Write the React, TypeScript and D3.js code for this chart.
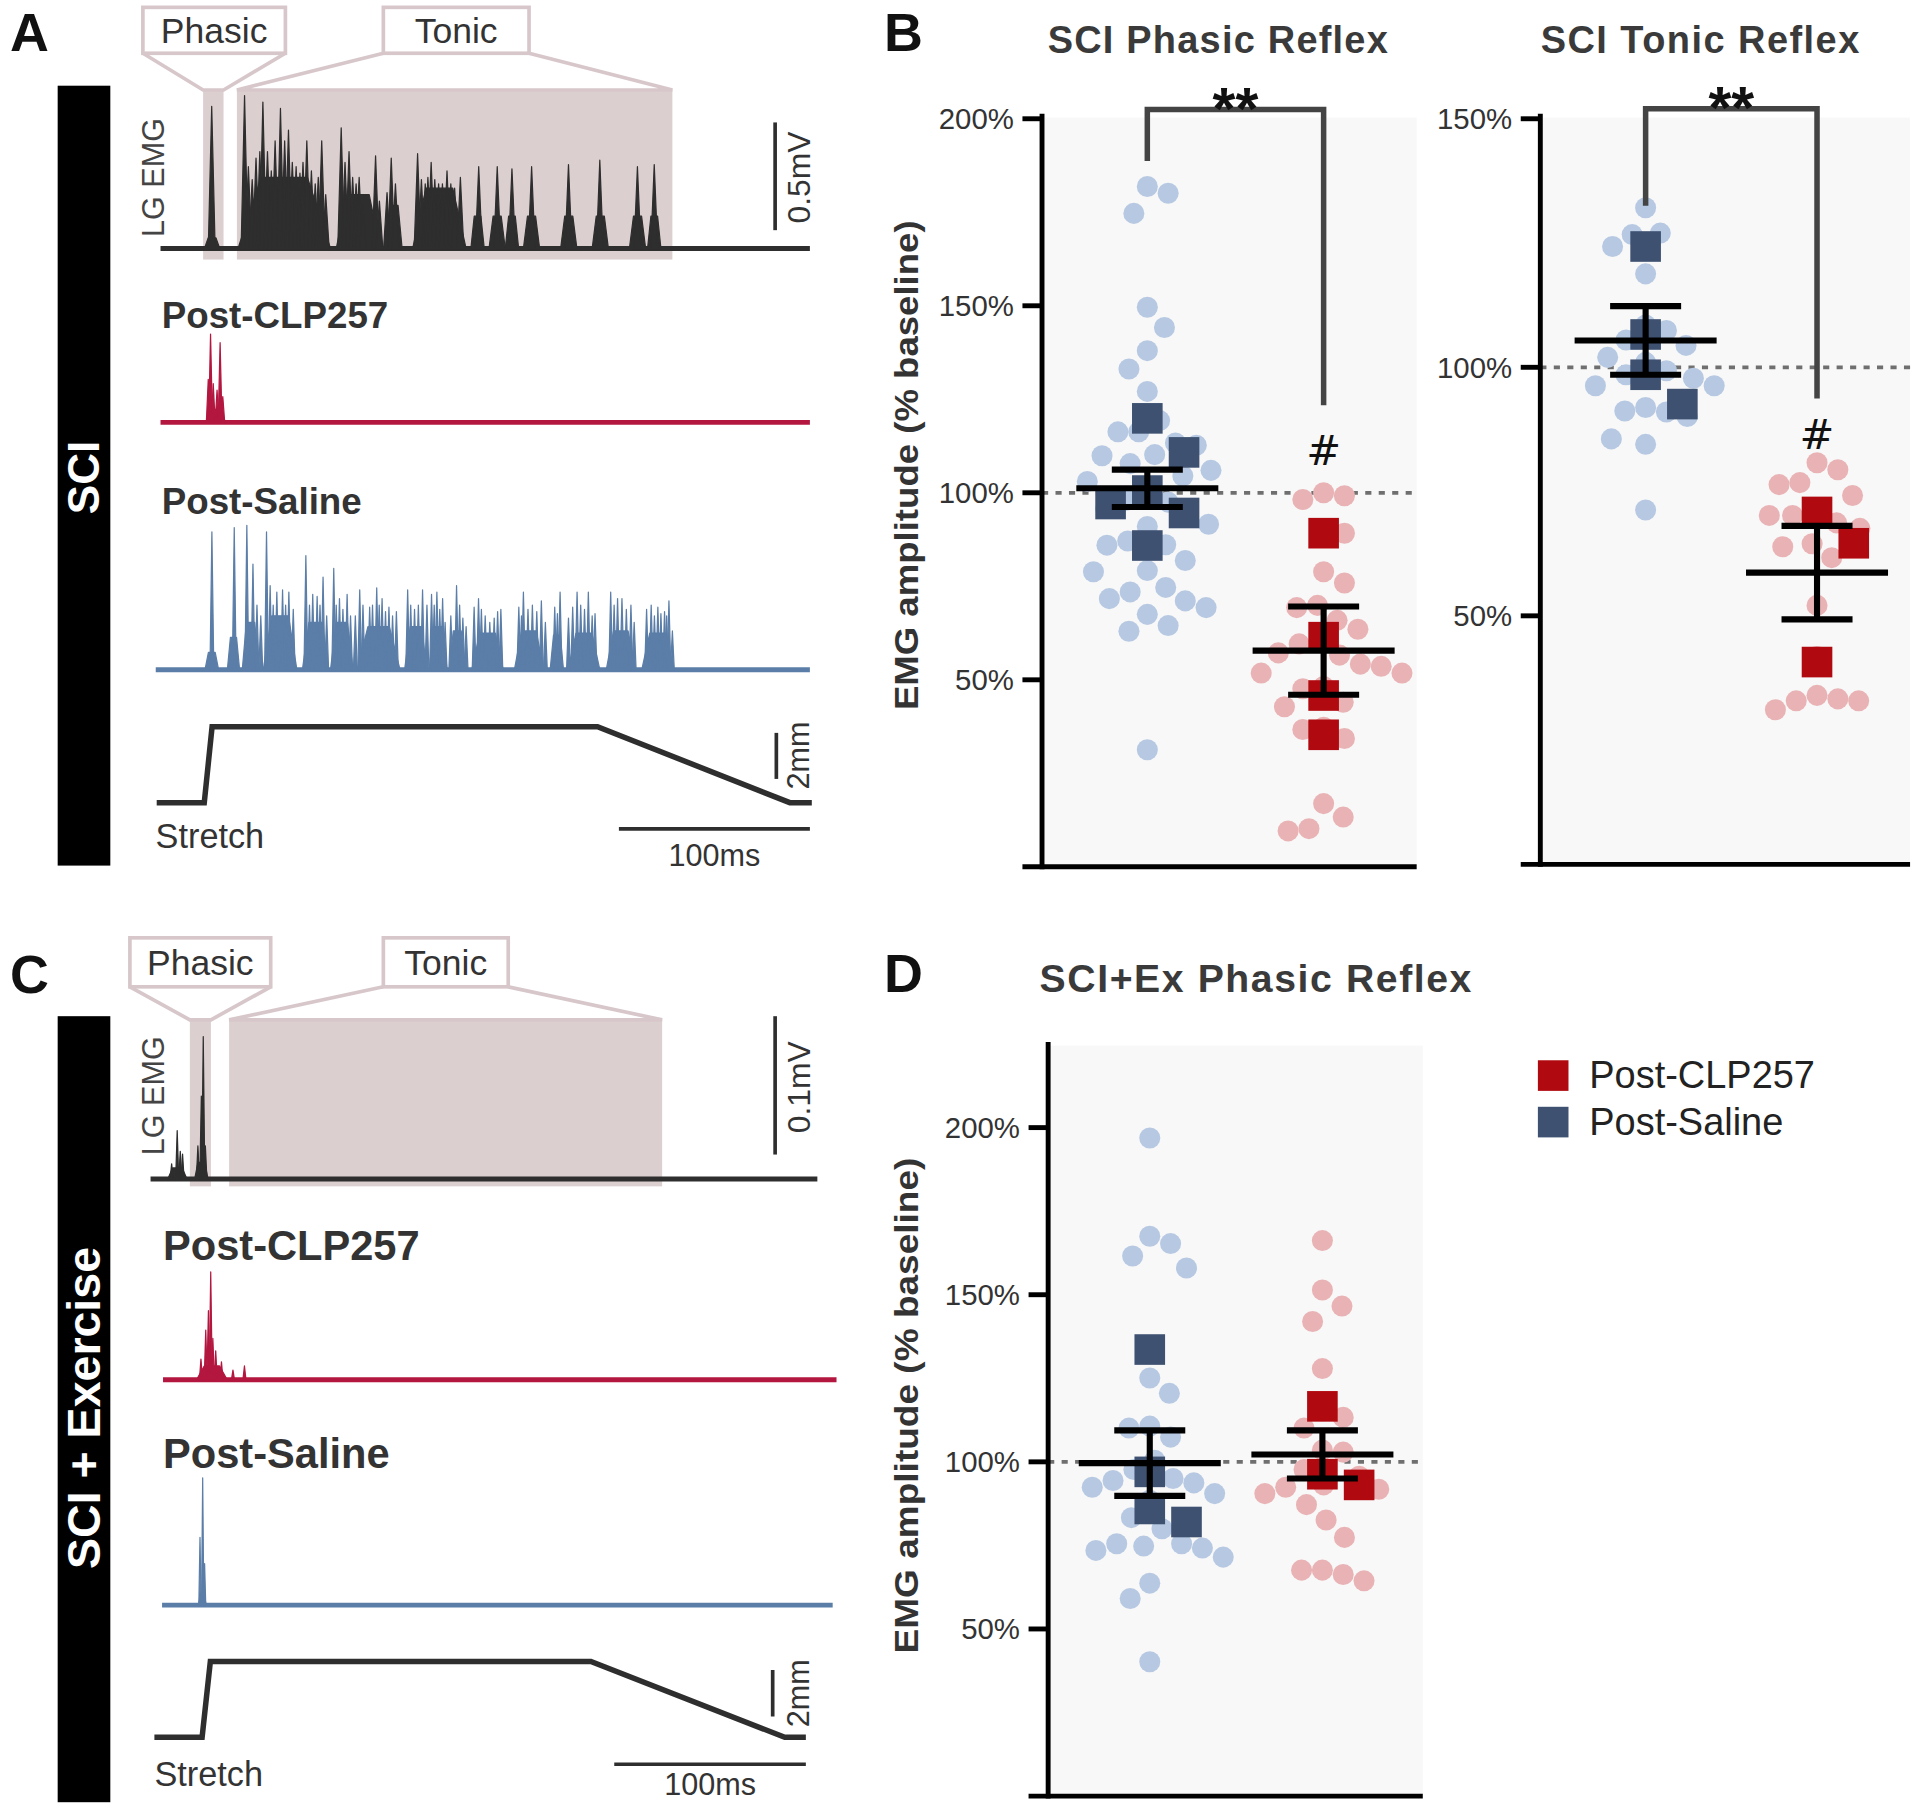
import React from "react";
import * as d3 from "d3";

// ---------- summary data, % of baseline ----------
const groups = ["Post-Saline", "Post-CLP257"];

const phasicTicks = [50, 100, 150, 200];
const tonicTicks = [50, 100, 150];

// B - SCI phasic reflex
const sciPhasicSaline = [181.9, 180.1, 174.7, 149.6, 144.2, 138.0, 133.1, 127.1, 119.3, 116.3, 116.3, 113.3, 112.7, 109.9, 110.2, 107.8, 106.0, 104.5, 103.0, 100.6, 98.0, 97.5, 95.8, 93.4, 91.6, 91.0, 87.1, 86.1, 86.0, 81.9, 78.9, 79.2, 74.7, 73.5, 71.7, 71.1, 69.3, 67.5, 64.5, 63.0, 31.3];
const sciPhasicSalineAnimals = [119.9, 110.8, 100.6, 97.0, 94.6, 85.9];
const sciPhasicClp = [99.2, 98.2, 100.0, 89.2, 89.5, 78.9, 75.9, 69.3, 69.9, 63.5, 65.9, 60.2, 57.2, 59.6, 56.6, 51.8, 54.2, 53.6, 51.8, 47.6, 48.2, 44.0, 42.8, 37.3, 34.3, 36.7, 16.9, 13.3, 10.2, 9.6];
const sciPhasicClpAnimals = [89.2, 61.4, 45.8, 35.3];
const sciPhasicMean = [101.2, 57.8];
const sciPhasicSem = [5.0, 11.8];

// B - SCI tonic reflex
const sciTonicSaline = [132.1, 127.0, 126.7, 124.3, 118.8, 108.5, 107.4, 105.5, 104.4, 102.0, 101.0, 99.3, 98.5, 97.8, 96.3, 96.3, 91.9, 91.2, 91.0, 90.1, 85.6, 84.5, 71.3];
const sciTonicSalineAnimals = [124.3, 106.6, 98.5, 92.6];
const sciTonicClp = [80.8, 79.4, 76.8, 76.4, 74.2, 71.3, 70.2, 70.2, 68.7, 67.6, 64.5, 63.9, 61.7, 52.1, 41.8, 34.0, 33.3, 32.9, 32.9, 31.1];
const sciTonicClpAnimals = [70.9, 64.6, 40.7];
const sciTonicMean = [105.4, 58.7];
const sciTonicSem = [6.9, 9.4];

// D - SCI+Ex phasic reflex
const exPhasicSaline = [196.9, 167.5, 165.3, 161.6, 158.0, 125.1, 120.5, 110.7, 110.1, 107.4, 100.5, 97.7, 95.0, 94.4, 93.7, 92.4, 90.5, 88.5, 83.3, 80.0, 75.5, 75.5, 74.8, 74.2, 73.5, 71.5, 63.7, 59.1, 40.2];
const exPhasicSalineAnimals = [133.6, 97.0, 85.9, 82.0];
const exPhasicClp = [166.2, 151.4, 146.6, 142.0, 127.9, 115.3, 113.3, 110.1, 103.5, 102.9, 97.7, 95.7, 93.1, 92.4, 91.8, 90.5, 87.2, 82.6, 77.4, 67.6, 67.6, 66.3, 64.4];
const exPhasicClpAnimals = [116.6, 96.3, 93.1];
const exPhasicMean = [99.6, 102.2];
const exPhasicSem = [9.8, 7.2];

// ---------- example traces: spikes [ms, mV], bursts [startMs, endMs, mV] ----------
const sciEmgSpikes = [[26.8, 0.66], [44, 0.71], [46, 0.38], [48, 0.32], [50, 0.42], [52, 0.45], [53.6, 0.68], [56, 0.45], [58, 0.36], [60, 0.5], [62.8, 0.65], [65, 0.5], [67, 0.55], [69, 0.4], [71, 0.38], [73, 0.35], [74.6, 0.4], [76.6, 0.5], [79, 0.36], [81, 0.3], [82.6, 0.33], [84.4, 0.5], [86.5, 0.25], [94.6, 0.56], [96.6, 0.4], [98.7, 0.45], [100.6, 0.33], [102.4, 0.3], [104, 0.33], [106, 0.2], [112.6, 0.43], [114.6, 0.22], [118.6, 0.26], [120.8, 0.42], [123, 0.3], [134.6, 0.44], [136.6, 0.32], [138.6, 0.3], [140, 0.33], [141.7, 0.4], [143.6, 0.32], [145.6, 0.3], [147.6, 0.3], [150, 0.36], [152, 0.3], [154, 0.28], [157, 0.33], [166.6, 0.38], [176.3, 0.38], [184, 0.37], [194.3, 0.38], [213.6, 0.39], [230, 0.41], [249.7, 0.38], [258.5, 0.39]];
const sciEmgBursts = [[23, 31, 0.05], [40.6, 89, 0.33], [92, 115, 0.25], [118, 126.5, 0.2], [132, 160, 0.28], [162.5, 169.5, 0.15], [172, 180.5, 0.15], [180.5, 187.5, 0.15], [190, 198.5, 0.15], [209.5, 218, 0.15], [226, 234.5, 0.15], [245.5, 254, 0.15], [255, 262, 0.15]];

const sciClpSpikes = [[25, 0.2], [26.2, 0.41], [27.6, 0.18], [29.6, 0.15], [31.2, 0.37], [32.6, 0.12]];
const sciClpBursts = [[24, 34, 0.06]];

const sciSalineSpikes = [[26.9, 0.64], [38.6, 0.66], [45.2, 0.67], [48.4, 0.49], [50.5, 0.3], [52.5, 0.25], [55.5, 0.64], [57.4, 0.39], [59, 0.3], [60.9, 0.36], [63.9, 0.37], [65.5, 0.3], [67.2, 0.36], [69.5, 0.28], [76.1, 0.53], [78, 0.3], [79.7, 0.35], [82, 0.34], [83.5, 0.3], [85.1, 0.43], [87, 0.25], [90.7, 0.47], [92, 0.3], [93.7, 0.33], [95.5, 0.28], [97.7, 0.35], [99.5, 0.25], [102, 0.25], [104.3, 0.37], [106, 0.3], [109.5, 0.29], [111, 0.3], [113.2, 0.38], [114.5, 0.3], [116, 0.33], [117.8, 0.27], [119.6, 0.29], [121.5, 0.25], [123.5, 0.27], [129.4, 0.37], [131, 0.3], [133, 0.28], [135, 0.3], [137.2, 0.37], [139.5, 0.3], [141.9, 0.35], [143.3, 0.3], [144.7, 0.36], [146.2, 0.28], [147.7, 0.33], [149, 0.22], [152, 0.25], [155, 0.39], [156.6, 0.3], [158.3, 0.24], [160, 0.2], [164.2, 0.29], [166.5, 0.33], [168, 0.28], [170, 0.25], [172.4, 0.22], [174.7, 0.24], [176.5, 0.27], [178.2, 0.28], [187.6, 0.29], [189, 0.25], [190, 0.36], [192.4, 0.28], [194.7, 0.3], [197, 0.27], [199.4, 0.32], [201.5, 0.22], [206.4, 0.29], [207.8, 0.26], [209.2, 0.36], [213.6, 0.24], [215.8, 0.29], [218.1, 0.36], [220, 0.3], [222, 0.28], [224, 0.36], [226, 0.25], [227.5, 0.26], [235.7, 0.36], [237.5, 0.3], [239.3, 0.33], [241.6, 0.33], [243.9, 0.28], [246.3, 0.3], [248, 0.22], [254.5, 0.28], [256.9, 0.3], [258.6, 0.25], [260.4, 0.29], [262, 0.26], [263.9, 0.27], [265, 0.25], [266.2, 0.32], [268, 0.18]];
const sciSalineBursts = [[23.3, 30.4, 0.08], [35, 41.4, 0.15], [42.8, 51.5, 0.22], [53.8, 71.4, 0.25], [74.3, 88, 0.22], [89, 100.8, 0.22], [103, 125.4, 0.2], [127.8, 139.5, 0.2], [140.7, 150, 0.2], [151.2, 159.5, 0.18], [163, 179.4, 0.17], [185.3, 200.5, 0.18], [204, 211, 0.16], [213.4, 230, 0.17], [233.4, 248.6, 0.18], [252, 268.6, 0.17]];

const exEmgSpikes = [[9, 0.011], [11.9, 0.035], [13.5, 0.02], [14.7, 0.018], [22.7, 0.024], [24.5, 0.06], [25.5, 0.103], [26.6, 0.024]];
const exEmgBursts = [[7, 17, 0.008], [21, 28, 0.012]];
const exClpSpikes = [[24.3, 0.015], [26.8, 0.036], [28.2, 0.05], [29.4, 0.078], [30.5, 0.03], [32, 0.021], [35, 0.013], [41, 0.007], [47, 0.01]];
const exClpBursts = [[22, 38, 0.01]];
const exSalineSpikes = [[23.8, 0.049], [25.2, 0.092], [26.2, 0.03]];
const exSalineBursts = [[23, 27, 0.008]];

// stretch ramp [ms, mm]
const stretchSci = [[-2, 0], [22.9, 0], [27, 3.3], [228.8, 3.3], [329.5, 0], [341, 0]];
const stretchEx = [[0, 0], [24.9, 0], [29.2, 3.26], [227.8, 3.26], [329, 0], [340, 0]];

// analysis windows [ms]
const sciWindows = { phasic: [22.3, 33], tonic: [40, 268] };
const exWindows = { phasic: [18.5, 29.5], tonic: [39, 265] };

// ---------- styles ----------
const FONT = "'Liberation Sans', Arial, Helvetica, sans-serif";
const TXT = "#333";
const dotColors = ["#b7c9e2", "#e9b3b5"];
const sqColors = ["#3e5171", "#b00a10"];
const shade = "#dccfd0";
const boxStroke = "#d7c7ca";

// column-scatter layout (like Prism): nearest free offset, balanced left/right
function dodge(values, y, minDist, square, squash) {
  const order = values.map((_, i) => i).sort((a, b) => values[b] - values[a]);
  const placed = [];
  const out = new Array(values.length).fill(0);
  const free = (c, py) => placed.every(p => square
    ? Math.max(Math.abs(p.x - c), Math.abs(p.y - py)) >= minDist
    : Math.hypot(p.x - c, (p.y - py) * squash) >= minDist);
  for (const i of order) {
    const py = y(values[i]);
    let best = 0;
    for (let k = 0; k < 200; k++) {
      const okR = free(k, py), okL = free(-k, py);
      if (okR || okL) {
        if (okR && okL && k > 0) {
          // put it on the side with less weight nearby
          const near = placed.filter(p => Math.abs(p.y - py) < minDist * 2);
          const bal = d3.sum(near, p => Math.sign(p.x));
          best = bal > 0 ? -k : k;
        } else best = okR ? k : -k;
        break;
      }
    }
    placed.push({ x: best, y: py });
    out[i] = best;
  }
  return out;
}

const ScatterPanel = ({ y, x, ticks, axisX, axisTop, right, dots, squares, means, sems }) => {
  const y0 = y(0);
  return (
    <g>
      <rect x={axisX + 2} y={axisTop + 3} width={right - axisX - 2} height={y0 - axisTop - 4} fill="#f8f8f8" />
      <line x1={axisX} x2={right} y1={y(100)} y2={y(100)} stroke="#6f6f6f" strokeWidth={3} strokeDasharray="5 6" />
      {groups.map((g, gi) => {
        const cx = x(g);
        const off = dodge(dots[gi], y, 17, false, 0.6);
        return dots[gi].map((v, i) => (
          <circle key={g + i} cx={cx + off[i]} cy={y(v)} r={8.6} fill={dotColors[gi]} />
        ));
      })}
      {groups.map((g, gi) => {
        const cx = x(g);
        const off = dodge(squares[gi], y, 30, true, 1);
        return squares[gi].map((v, i) => (
          <rect key={g + "s" + i} x={cx + off[i] - 12.5} y={y(v) - 12.5} width={25} height={25} fill={sqColors[gi]} />
        ));
      })}
      {groups.map((g, gi) => {
        const cx = x(g);
        const m = means[gi], s = sems[gi];
        return (
          <g key={g + "e"} stroke="#000" strokeWidth={5}>
            <line x1={cx - 58} x2={cx + 58} y1={y(m)} y2={y(m)} />
            <line x1={cx} x2={cx} y1={y(m + s)} y2={y(m - s)} />
            <line x1={cx - 29} x2={cx + 29} y1={y(m + s)} y2={y(m + s)} />
            <line x1={cx - 29} x2={cx + 29} y1={y(m - s)} y2={y(m - s)} />
          </g>
        );
      })}
      <line x1={axisX} x2={axisX} y1={y0 + 2} y2={axisTop} stroke="#000" strokeWidth={4} />
      <line x1={axisX - 16} x2={right} y1={y0} y2={y0} stroke="#000" strokeWidth={4} />
      {ticks.map(t => (
        <g key={t}>
          <line x1={axisX - 16} x2={axisX} y1={y(t)} y2={y(t)} stroke="#000" strokeWidth={4} />
          <text x={axisX - 23} y={y(t)} dy="0.35em" textAnchor="end" fontSize={24} fill={TXT}>{t}%</text>
        </g>
      ))}
    </g>
  );
};

const Bracket = ({ x, y, left, top, rightEnd, hashY }) => {
  const x1 = x(groups[0]), x2 = x(groups[1]);
  return (
    <g>
      <path d={d3.line()([[x1, y(left)], [x1, y(top)], [x2, y(top)], [x2, y(rightEnd)]])} fill="none" stroke="#444" strokeWidth={4.5} />
      <text x={(x1 + x2) / 2} y={y(top) + 16} textAnchor="middle" fontSize={48} fontWeight="bold" fill="#111">**</text>
      <text x={x2} y={hashY} textAnchor="middle" fontSize={34} fill="#111" fontFamily="'DejaVu Sans', sans-serif">#</text>
    </g>
  );
};

const Trace = ({ x, y, from, to, spikes, bursts, hw, color, width }) => {
  const line = d3.line();
  const base = line([[x(from), y(0)], [x(to), y(0)]]);
  return (
    <g fill={color} stroke={color} strokeWidth={1} strokeLinejoin="round">
      <path d={base} fill="none" strokeWidth={width} />
      {bursts.map(([a, b, v], i) => {
        const r = (b - a) * 0.25;
        return <path key={"b" + i} d={line([[x(a), y(0)], [x(a + r), y(v)], [x(b - r), y(v)], [x(b), y(0)]]) + "Z"} />;
      })}
      {spikes.map(([t, v], i) => (
        <path key={"s" + i} d={line([[x(t - hw), y(0)], [x(t), y(v)], [x(t + hw), y(0)]]) + "Z"} />
      ))}
    </g>
  );
};

const Windows = ({ x, win, top, bottom, phasicBox, tonicBox, boxTop, boxBottom }) => {
  const [p0, p1] = win.phasic.map(x);
  const [t0, t1] = win.tonic.map(x);
  return (
    <g>
      <rect x={p0} y={top} width={p1 - p0} height={bottom - top} fill={shade} />
      <rect x={t0} y={top} width={t1 - t0} height={bottom - top} fill={shade} />
      <g fill="none" stroke={boxStroke} strokeWidth={3}>
        <path d={d3.line()([[phasicBox[0], boxBottom], [p0, top], [p1, top], [phasicBox[1], boxBottom]])} />
        <path d={d3.line()([[tonicBox[0], boxBottom], [t0, top], [t1, top], [tonicBox[1], boxBottom]])} />
        <rect x={phasicBox[0]} y={boxTop} width={phasicBox[1] - phasicBox[0]} height={boxBottom - boxTop} fill="#fff" />
        <rect x={tonicBox[0]} y={boxTop} width={tonicBox[1] - tonicBox[0]} height={boxBottom - boxTop} fill="#fff" />
      </g>
      <text x={(phasicBox[0] + phasicBox[1]) / 2} y={(boxTop + boxBottom) / 2 + 10} textAnchor="middle" fontSize={29} fill={TXT}>Phasic</text>
      <text x={(tonicBox[0] + tonicBox[1]) / 2} y={(boxTop + boxBottom) / 2 + 10} textAnchor="middle" fontSize={29} fill={TXT}>Tonic</text>
    </g>
  );
};

const RotText = ({ x, y, size, children, weight, fill, len }) => (
  <text transform={`translate(${x},${y}) rotate(-90)`} textAnchor="middle" dy="0.35em" fontSize={size}
    fontWeight={weight || "normal"} fill={fill || TXT} textLength={len} lengthAdjust={len ? "spacingAndGlyphs" : undefined}>{children}</text>
);

export default function App() {
  // --- scales for the traces (viewBox units) ---
  const xA = d3.scaleLinear().domain([0, 100]).range([131, 287]);
  const xC = d3.scaleLinear().domain([0, 100]).range([126, 282.5]);
  const mvA = 176, mvC = 1130; // px per mV
  const ampA = base => d3.scaleLinear().domain([0, 1]).range([base, base - mvA]);
  const ampC = base => d3.scaleLinear().domain([0, 1]).range([base, base - mvC]);
  const mmA = d3.scaleLinear().domain([0, 1]).range([655.6, 655.6 - 18.8]);
  const mmC = d3.scaleLinear().domain([0, 1]).range([1419, 1419 - 19]);

  // --- scatter scales ---
  const yB1 = d3.scaleLinear().domain([0, 200]).range([708, 97]);
  const xB1 = d3.scalePoint().domain(groups).range([937, 1081]);
  const yB2 = d3.scaleLinear().domain([0, 150]).range([706, 97]);
  const xB2 = d3.scalePoint().domain(groups).range([1344, 1484]);
  const yD = d3.scaleLinear().domain([0, 200]).range([1467, 921]);
  const xD = d3.scalePoint().domain(groups).range([939, 1080]);

  const stretchLine = (x, y) => d3.line().x(d => x(d[0])).y(d => y(d[1]));

  return (
    <svg width={1920} height={1812} viewBox="0 0 1568 1480" fontFamily={FONT}
      style={{ position: "absolute", left: 0, top: 0, display: "block", background: "#fff" }}>
      <rect width={1568} height={1480} fill="#fff" />

      {/* ---------------- A ---------------- */}
      <text x={8} y={42} fontSize={44} fontWeight="bold" fill="#111">A</text>
      <rect x={47} y={70} width={43} height={637} fill="#000" />
      <RotText x={68} y={390} size={36} weight="bold" fill="#fff">SCI</RotText>
      <Windows x={xA} win={sciWindows} top={73.5} bottom={212} phasicBox={[116.6, 233]} tonicBox={[313, 432]} boxTop={6} boxBottom={43.5} />
      <RotText x={125} y={145} size={25} fill="#444">LG EMG</RotText>
      <Trace x={xA} y={ampA(203)} from={0} to={340} spikes={sciEmgSpikes} bursts={sciEmgBursts} hw={1.8} color="#2e2e2e" width={4} />
      <line x1={633} x2={633} y1={188} y2={188 - 0.5 * mvA} stroke="#2e2e2e" strokeWidth={3} />
      <RotText x={652} y={145} size={26}>0.5mV</RotText>

      <text x={132} y={268} fontSize={30} fontWeight="bold" fill={TXT}>Post-CLP257</text>
      <Trace x={xA} y={ampA(345)} from={0} to={340} spikes={sciClpSpikes} bursts={sciClpBursts} hw={1.0} color="#b3173f" width={4} />
      <text x={132} y={420} fontSize={30} fontWeight="bold" fill={TXT}>Post-Saline</text>
      <Trace x={xA} y={ampA(547)} from={-2.5} to={340} spikes={sciSalineSpikes} bursts={sciSalineBursts} hw={1.0} color="#5b7ea8" width={4} />

      <path d={stretchLine(xA, mmA)(stretchSci)} fill="none" stroke="#2e2e2e" strokeWidth={4.5} />
      <line x1={634} x2={634} y1={mmA(0) - 19.4} y2={mmA(2) - 19.4} stroke="#2e2e2e" strokeWidth={3} />
      <RotText x={652} y={617} size={25}>2mm</RotText>
      <text x={127} y={693} fontSize={28} fill={TXT}>Stretch</text>
      <line x1={xA(240)} x2={xA(340)} y1={677} y2={677} stroke="#2e2e2e" strokeWidth={3} />
      <text x={(xA(240) + xA(340)) / 2} y={707} textAnchor="middle" fontSize={25} fill={TXT}>100ms</text>

      {/* ---------------- C ---------------- */}
      <text x={8} y={811} fontSize={44} fontWeight="bold" fill="#111">C</text>
      <rect x={47} y={830} width={43} height={642} fill="#000" />
      <RotText x={68} y={1150} size={38} weight="bold" fill="#fff">SCI + Exercise</RotText>
      <Windows x={xC} win={exWindows} top={833} bottom={969} phasicBox={[106, 221]} tonicBox={[313, 415]} boxTop={766} boxBottom={806} />
      <RotText x={125} y={895} size={25} fill="#444">LG EMG</RotText>
      <Trace x={xC} y={ampC(963)} from={-2} to={346} spikes={exEmgSpikes} bursts={exEmgBursts} hw={0.8} color="#2e2e2e" width={4} />
      <line x1={633} x2={633} y1={943} y2={943 - 0.1 * mvC} stroke="#2e2e2e" strokeWidth={3} />
      <RotText x={652} y={888} size={26}>0.1mV</RotText>

      <text x={133} y={1029} fontSize={34} fontWeight="bold" fill={TXT}>Post-CLP257</text>
      <Trace x={xC} y={ampC(1127)} from={4.5} to={356} spikes={exClpSpikes} bursts={exClpBursts} hw={0.8} color="#b3173f" width={4} />
      <text x={133} y={1199} fontSize={34} fontWeight="bold" fill={TXT}>Post-Saline</text>
      <Trace x={xC} y={ampC(1311)} from={4} to={354} spikes={exSalineSpikes} bursts={exSalineBursts} hw={0.6} color="#5b7ea8" width={4} />

      <path d={stretchLine(xC, mmC)(stretchEx)} fill="none" stroke="#2e2e2e" strokeWidth={4.5} />
      <line x1={631} x2={631} y1={1402} y2={1402 - 2 * 19} stroke="#2e2e2e" strokeWidth={3} />
      <RotText x={652} y={1383} size={25}>2mm</RotText>
      <text x={126} y={1459} fontSize={28} fill={TXT}>Stretch</text>
      <line x1={xC(240)} x2={xC(340)} y1={1441} y2={1441} stroke="#2e2e2e" strokeWidth={3} />
      <text x={(xC(240) + xC(340)) / 2} y={1466} textAnchor="middle" fontSize={25} fill={TXT}>100ms</text>

      {/* ---------------- B ---------------- */}
      <text x={722} y={42} fontSize={44} fontWeight="bold" fill="#111">B</text>
      <text x={995} y={43} textAnchor="middle" fontSize={31} letterSpacing={1} fontWeight="bold" fill="#3a3a3a">SCI Phasic Reflex</text>
      <text x={1389} y={43} textAnchor="middle" fontSize={31} letterSpacing={1.2} fontWeight="bold" fill="#3a3a3a">SCI Tonic Reflex</text>
      <RotText x={740} y={380} size={27} weight="bold" len={400}>EMG amplitude (% baseline)</RotText>
      <ScatterPanel y={yB1} x={xB1} ticks={phasicTicks} axisX={851} axisTop={93} right={1157}
        dots={[sciPhasicSaline, sciPhasicClp]} squares={[sciPhasicSalineAnimals, sciPhasicClpAnimals]}
        means={sciPhasicMean} sems={sciPhasicSem} />
      <Bracket x={xB1} y={yB1} left={188.7} top={202.5} rightEnd={123.4} hashY={380} />
      <ScatterPanel y={yB2} x={xB2} ticks={tonicTicks} axisX={1258} axisTop={93} right={1560}
        dots={[sciTonicSaline, sciTonicClp]} squares={[sciTonicSalineAnimals, sciTonicClpAnimals]}
        means={sciTonicMean} sems={sciTonicSem} />
      <Bracket x={xB2} y={yB2} left={132.5} top={152} rightEnd={93.7} hashY={367} />

      {/* ---------------- D ---------------- */}
      <text x={722} y={810} fontSize={44} fontWeight="bold" fill="#111">D</text>
      <text x={1026} y={810} textAnchor="middle" fontSize={32} letterSpacing={1.3} fontWeight="bold" fill="#3a3a3a">SCI+Ex Phasic Reflex</text>
      <RotText x={740} y={1148} size={27} weight="bold" len={405}>EMG amplitude (% baseline)</RotText>
      <ScatterPanel y={yD} x={xD} ticks={phasicTicks} axisX={856} axisTop={851} right={1162}
        dots={[exPhasicSaline, exPhasicClp]} squares={[exPhasicSalineAnimals, exPhasicClpAnimals]}
        means={exPhasicMean} sems={exPhasicSem} />

      {/* legend */}
      {[groups[1], groups[0]].map((g, i) => (
        <g key={g}>
          <rect x={1256} y={866 + i * 38} width={25} height={25} fill={sqColors[1 - i]} />
          <text x={1298} y={889 + i * 38} fontSize={31} fill="#222">{g}</text>
        </g>
      ))}
    </svg>
  );
}
